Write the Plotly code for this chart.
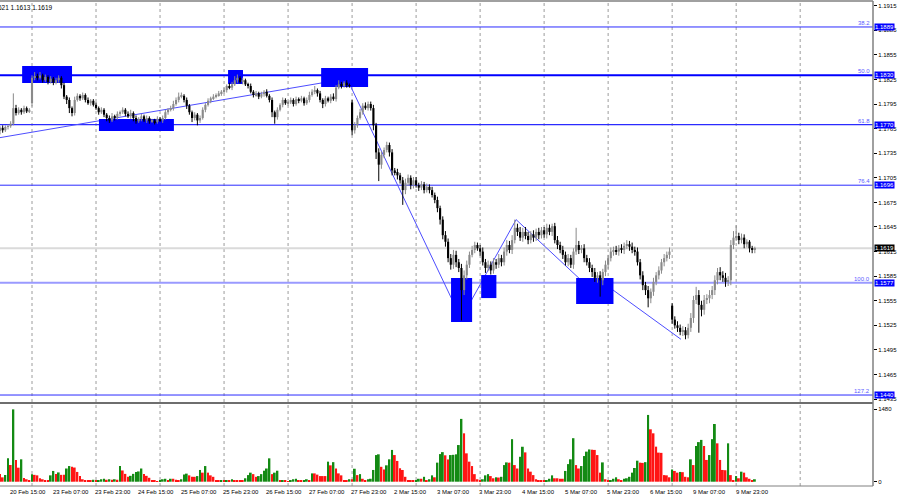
import plotly.graph_objects as go

# ---- hourly EURUSD bars, closes per trading day (broker time) ----
day_names = ["20 Feb", "23 Feb", "24 Feb", "25 Feb", "26 Feb", "27 Feb",
             "2 Mar", "3 Mar", "4 Mar", "5 Mar", "6 Mar", "9 Mar", "10 Mar"]
first_hour = 12
first_open = 1.1762

c_fri_20 = [1.1766, 1.1763, 1.1767, 1.1768, 1.1771, 1.1790, 1.1784, 1.1788, 1.1785, 1.1790, 1.1786, 1.1788]
c_mon_23 = [1.1827, 1.1829, 1.1827, 1.1830, 1.1824, 1.1828, 1.1822, 1.1826, 1.1821, 1.1824, 1.1827, 1.1818,
            1.1804, 1.1800, 1.1790, 1.1784, 1.1800, 1.1805, 1.1802, 1.1806, 1.1800, 1.1796, 1.1799, 1.1794]
c_tue_24 = [1.1790, 1.1785, 1.1788, 1.1782, 1.1778, 1.1775, 1.1780, 1.1778, 1.1783, 1.1785, 1.1788, 1.1783,
            1.1780, 1.1784, 1.1778, 1.1774, 1.1777, 1.1780, 1.1775, 1.1778, 1.1774, 1.1775, 1.1773, 1.1777]
c_wed_25 = [1.1775, 1.1778, 1.1785, 1.1788, 1.1790, 1.1795, 1.1800, 1.1804, 1.1805, 1.1800, 1.1793, 1.1785,
            1.1778, 1.1782, 1.1775, 1.1778, 1.1788, 1.1794, 1.1799, 1.1802, 1.1804, 1.1806, 1.1808, 1.1810]
c_thu_26 = [1.1812, 1.1817, 1.1815, 1.1819, 1.1824, 1.1827, 1.1822, 1.1824, 1.1819, 1.1817, 1.1810, 1.1806,
            1.1808, 1.1804, 1.1807, 1.1810, 1.1805, 1.1800, 1.1785, 1.1779, 1.1788, 1.1794, 1.1800, 1.1796]
c_fri_27 = [1.1797, 1.1800, 1.1795, 1.1801, 1.1799, 1.1802, 1.1796, 1.1800, 1.1806, 1.1810, 1.1812, 1.1808,
            1.1800, 1.1795, 1.1802, 1.1799, 1.1804, 1.1801, 1.1815, 1.1819, 1.1817, 1.1821, 1.1818, 1.1817]
c_mon_2 = [1.1763, 1.1769, 1.1778, 1.1785, 1.1793, 1.1790, 1.1795, 1.1790, 1.1769, 1.1736, 1.1721, 1.1733,
           1.1739, 1.1745, 1.1736, 1.1714, 1.1712, 1.1708, 1.1702, 1.1690, 1.1699, 1.1705, 1.1696, 1.1702]
c_tue_3 = [1.1696, 1.1693, 1.1697, 1.1690, 1.1694, 1.1690, 1.1684, 1.1678, 1.1668, 1.1654, 1.1635, 1.1627,
           1.1607, 1.1599, 1.1611, 1.1602, 1.1595, 1.1568, 1.1586, 1.1599, 1.1611, 1.1617, 1.1623, 1.1619]
c_wed_4 = [1.1615, 1.1602, 1.1595, 1.1599, 1.1592, 1.1602, 1.1599, 1.1607, 1.1602, 1.1615, 1.1623, 1.1617,
           1.1629, 1.1644, 1.1639, 1.1632, 1.1639, 1.1634, 1.1629, 1.1636, 1.1632, 1.1639, 1.1635, 1.1641]
c_thu_5 = [1.1636, 1.1644, 1.1639, 1.1646, 1.1629, 1.1623, 1.1617, 1.1611, 1.1602, 1.1607, 1.1599, 1.1615,
           1.1623, 1.1617, 1.1619, 1.1607, 1.1602, 1.1595, 1.1590, 1.1583, 1.1586, 1.1580, 1.1590, 1.1599]
c_fri_6 = [1.1607, 1.1615, 1.1617, 1.1615, 1.1619, 1.1617, 1.1622, 1.1624, 1.1621, 1.1617, 1.1615, 1.1602,
           1.1586, 1.1574, 1.1568, 1.1558, 1.1566, 1.1578, 1.1586, 1.1592, 1.1602, 1.1607, 1.1611, 1.1615]
c_mon_9 = [1.1532, 1.1525, 1.1522, 1.1517, 1.1519, 1.1513, 1.1522, 1.1534, 1.1556, 1.1562, 1.1550, 1.1544,
           1.1556, 1.1558, 1.1562, 1.1568, 1.1580, 1.1590, 1.1586, 1.1583, 1.1578, 1.1580, 1.1623, 1.1632]
c_tue_10 = [1.1634, 1.1629, 1.1632, 1.1624, 1.1627, 1.1619, 1.1617, 1.1619]

# weekend gaps: Monday opens
gap_opens = {"23 Feb 00:00": 1.1796, "2 Mar 00:00": 1.1797, "9 Mar 00:00": 1.1549}

# wicks in pips above / below the body
hi_days = [
    [2, 3, 2, 2, 3, 18, 4, 3, 2, 3, 2, 2],
    [3, 5, 3, 4, 2, 3, 2, 3, 2, 3, 3, 2, 3, 2, 3, 2, 4, 3, 2, 3, 2, 3, 2, 2],
    [3, 2, 3, 2, 2, 3, 4, 2, 3, 2, 3, 2, 3, 4, 2, 3, 2, 3, 2, 3, 2, 2, 2, 3],
    [2, 3, 3, 2, 3, 4, 3, 5, 4, 2, 3, 2, 2, 3, 2, 3, 3, 2, 3, 2, 3, 2, 3, 2],
    [3, 2, 4, 3, 5, 4, 2, 3, 2, 2, 3, 2, 3, 2, 3, 2, 3, 2, 3, 2, 3, 2, 3, 2],
    [2, 3, 2, 3, 2, 3, 2, 3, 4, 3, 5, 2, 3, 2, 3, 2, 3, 4, 3, 5, 3, 2, 3, 2],
    [3, 4, 3, 4, 3, 4, 3, 3, 4, 3, 5, 4, 3, 4, 3, 4, 3, 4, 3, 4, 5, 4, 3, 4],
    [4, 3, 4, 3, 4, 3, 4, 3, 4, 3, 4, 5, 4, 5, 6, 5, 4, 5, 6, 5, 4, 5, 4, 3],
    [4, 5, 4, 5, 4, 5, 4, 5, 4, 5, 6, 5, 6, 10, 5, 6, 5, 6, 5, 4, 5, 4, 5, 4],
    [4, 5, 4, 3, 4, 5, 4, 5, 4, 5, 4, 4, 21, 5, 4, 5, 4, 5, 4, 5, 4, 5, 4, 5],
    [4, 5, 4, 5, 4, 5, 4, 5, 4, 5, 4, 5, 4, 5, 4, 5, 4, 5, 4, 5, 4, 5, 4, 5],
    [3, 4, 5, 4, 5, 4, 5, 6, 5, 10, 6, 5, 6, 5, 6, 5, 6, 5, 6, 5, 6, 5, 6, 8],
    [13, 4, 5, 4, 3, 2, 3, 2],
]
lo_days = [
    [4, 3, 2, 3, 2, 2, 3, 2, 3, 2, 2, 2],
    [4, 3, 3, 2, 3, 2, 3, 2, 3, 2, 3, 4, 3, 5, 6, 4, 3, 2, 3, 2, 3, 2, 3, 2],
    [2, 3, 2, 3, 4, 3, 2, 3, 2, 3, 2, 3, 2, 3, 4, 3, 2, 3, 2, 3, 3, 2, 3, 2],
    [2, 3, 2, 3, 2, 3, 2, 3, 2, 3, 4, 3, 5, 3, 6, 3, 2, 3, 2, 3, 2, 2, 2, 3],
    [2, 3, 2, 3, 2, 3, 2, 3, 2, 3, 2, 3, 2, 3, 2, 3, 2, 3, 6, 8, 3, 2, 3, 2],
    [3, 2, 3, 2, 3, 2, 3, 2, 3, 2, 3, 4, 3, 5, 3, 2, 3, 2, 3, 2, 3, 2, 3, 2],
    [6, 4, 3, 2, 3, 2, 3, 3, 6, 8, 20, 5, 4, 3, 5, 6, 4, 5, 4, 18, 5, 4, 5, 4],
    [3, 4, 3, 4, 3, 4, 3, 4, 5, 6, 5, 6, 5, 6, 5, 6, 5, 37, 6, 5, 4, 3, 4, 3],
    [5, 4, 6, 4, 5, 4, 5, 4, 5, 4, 5, 4, 5, 4, 5, 4, 5, 4, 5, 4, 5, 4, 5, 4],
    [4, 5, 4, 5, 4, 5, 4, 5, 4, 5, 4, 5, 4, 5, 4, 5, 4, 5, 6, 5, 6, 20, 6, 5],
    [5, 4, 5, 4, 5, 4, 5, 4, 5, 4, 5, 4, 5, 6, 6, 11, 6, 5, 4, 5, 4, 5, 4, 5],
    [5, 4, 5, 4, 5, 5, 4, 5, 6, 5, 34, 8, 6, 5, 6, 5, 6, 5, 6, 5, 6, 5, 6, 5],
    [4, 5, 4, 5, 4, 5, 4, 4],
]

# tick volumes per day
vol_days = [
    [157, 89, 137, 478, 342, 1480, 444, 287, 458, 75, 50, 30],
    [150, 140, 130, 70, 50, 30, 30, 130, 220, 160, 190, 140, 140, 270, 320, 305, 290, 200, 115, 50, 30, 30, 20, 40],
    [15, 30, 50, 60, 40, 50, 40, 50, 40, 320, 230, 160, 100, 120, 160, 200, 210, 270, 160, 120, 80, 30, 30, 10],
    [15, 50, 60, 35, 60, 60, 40, 30, 50, 145, 165, 130, 100, 100, 115, 240, 185, 320, 185, 130, 100, 30, 25, 30],
    [15, 35, 35, 50, 35, 35, 35, 35, 70, 135, 185, 155, 100, 115, 155, 225, 270, 478, 155, 185, 225, 20, 35, 20],
    [5, 35, 50, 60, 20, 20, 35, 50, 35, 170, 170, 145, 115, 115, 115, 410, 335, 400, 270, 170, 130, 35, 35, 50],
    [50, 265, 135, 155, 60, 35, 50, 60, 240, 545, 560, 305, 250, 335, 458, 650, 545, 425, 275, 240, 100, 35, 27, 15],
    [35, 60, 60, 100, 35, 50, 130, 90, 390, 565, 605, 540, 455, 545, 550, 560, 750, 1285, 990, 580, 410, 320, 155, 50],
    [20, 50, 130, 155, 115, 70, 90, 85, 100, 340, 395, 390, 870, 340, 270, 510, 715, 600, 270, 205, 135, 50, 35, 35],
    [15, 35, 60, 130, 70, 70, 60, 60, 220, 360, 458, 890, 340, 270, 320, 525, 615, 660, 655, 650, 545, 185, 395, 50],
    [15, 35, 60, 90, 50, 35, 60, 70, 100, 185, 280, 430, 390, 385, 400, 1366, 1072, 990, 717, 595, 590, 135, 130, 90],
    [250, 220, 185, 200, 195, 100, 90, 458, 340, 730, 810, 855, 730, 445, 545, 870, 1180, 785, 445, 240, 235, 785, 135, 35],
    [115, 70, 205, 185, 90, 60, 35, 50],
]

close_days = [c_fri_20, c_mon_23, c_tue_24, c_wed_25, c_thu_26, c_fri_27,
              c_mon_2, c_tue_3, c_wed_4, c_thu_5, c_fri_6, c_mon_9, c_tue_10]

# time-scale labels
label_times = ["20 Feb 15:00", "23 Feb 07:00", "23 Feb 23:00", "24 Feb 15:00", "25 Feb 07:00",
               "25 Feb 23:00", "26 Feb 15:00", "27 Feb 07:00", "27 Feb 23:00", "2 Mar 15:00",
               "3 Mar 07:00", "3 Mar 23:00", "4 Mar 15:00", "5 Mar 07:00", "5 Mar 23:00",
               "6 Mar 15:00", "9 Mar 07:00", "9 Mar 23:00"]
cut_label = "19 Feb 23:00"

price_ticks = [1.1435, 1.1465, 1.1495, 1.1525, 1.1555, 1.1585, 1.1615, 1.1645, 1.1675,
               1.1705, 1.1735, 1.1765, 1.1795, 1.1825, 1.1855, 1.1885, 1.1915]
vol_ticks = [0, 1480]

# fibonacci grid
fib_pct = ["38.2", "50.0", "61.8", "76.4", "100.0", "127.2"]
fib_price = [1.1889, 1.1830, 1.1770, 1.1696, 1.1577, 1.1440]
bid = 1.1619
header = "EURUSD,H1  1.1617 1.1621 1.1613 1.1619"

# analyst drawings (bar index, price)
zigzag_bar = [0, 130.1, 172.9, 193.5, 223.5, 226.9, 255.3]
zigzag_price = [1.1754, 1.1826, 1.1533, 1.1654, 1.1563, 1.1575, 1.1508]
boxes = [  # bar0, bar1, price_lo, price_hi
    (8.3, 27.0, 1.18207, 1.18414),
    (37.1, 65.2, 1.17621, 1.17768),
    (85.5, 91.1, 1.18195, 1.18365),
    (120.4, 138.0, 1.18158, 1.18390),
    (169.1, 177.0, 1.15291, 1.15828),
    (180.4, 186.1, 1.15583, 1.15864),
    (216.0, 230.0, 1.15510, 1.15828),
]

# ---- assemble bars ----
times = []
for k, (name, day) in enumerate(zip(day_names, close_days)):
    h0 = first_hour if k == 0 else 0
    times += [f"{name} {h0 + h:02d}:00" for h in range(len(day))]

closes = sum(close_days, [])
wick_hi = sum(hi_days, [])
wick_lo = sum(lo_days, [])
volumes = sum(vol_days, [])
bars = list(range(len(closes)))

opens = [first_open] + closes[:-1]
for t, o in gap_opens.items():
    opens[times.index(t)] = o
highs = [round(max(o, c) + w * 0.0001, 5) for o, c, w in zip(opens, closes, wick_hi)]
lows = [round(min(o, c) - w * 0.0001, 5) for o, c, w in zip(opens, closes, wick_lo)]

UP, DOWN = "#8a8a8a", "#000000"
is_up = [c >= o for o, c in zip(opens, closes)]
body_base = [min(o, c) for o, c in zip(opens, closes)]
body_h = [max(abs(c - o), 0.00003) for o, c in zip(opens, closes)]
body_col = [UP if u else DOWN for u in is_up]


def wick_xy(up):
    xs, ys = [], []
    for b, h, l, u in zip(bars, highs, lows, is_up):
        if u == up:
            xs += [b, b, None]
            ys += [l, h, None]
    return xs, ys


vol_colors = ["#138a13" if i > 0 and volumes[i] > volumes[i - 1] else "#ff1414"
              for i in range(len(volumes))]

label_bars = [times.index(t) for t in label_times]
day_starts = [i for i, t in enumerate(times) if t.endswith(" 00:00")]
day_starts.append(day_starts[-1] + 24)

# ---- axes geometry ----
X_RANGE = [0, 327.3]
P_RANGE = [1.14315, 1.19207]
V_RANGE = [-88, 1590]
MAIN_DOM = [0.1732, 1.0]
VOL_DOM = [0.0, 0.1691]
SEP_Y = 0.1711

fib_style = {
    "38.2": ("#2b2bff", 1), "50.0": ("#0000ff", 2), "61.8": ("#2b2bff", 1.3),
    "76.4": ("#2b2bff", 1), "100.0": ("#9a9aff", 2), "127.2": ("#2b2bff", 1),
}

fig = go.Figure()

# zigzag + boxes on the base layer (under the candles)
fig.add_trace(go.Scatter(
    x=zigzag_bar, y=zigzag_price, mode="lines",
    line=dict(color="#4d4dff", width=1), hoverinfo="skip",
    xaxis="x", yaxis="y"))
for b0, b1, p0, p1 in boxes:
    fig.add_trace(go.Scatter(
        x=[b0, b1, b1, b0, b0], y=[p0, p0, p1, p1, p0],
        mode="lines", fill="toself", fillcolor="#0000ff",
        line=dict(width=0, color="#0000ff"), hoverinfo="skip",
        xaxis="x", yaxis="y"))

# candles on an overlaying axis so they sit above the drawings
fig.add_trace(go.Bar(
    x=bars, y=body_h, base=body_base, width=0.8,
    marker=dict(color=body_col, line=dict(width=0)),
    hoverinfo="skip", xaxis="x", yaxis="y3"))
for up, col in [(True, UP), (False, DOWN)]:
    wx, wy = wick_xy(up)
    fig.add_trace(go.Scatter(
        x=wx, y=wy, mode="lines", line=dict(color=col, width=1),
        hoverinfo="skip", xaxis="x", yaxis="y3"))

fig.add_trace(go.Bar(
    x=bars, y=volumes, marker=dict(color=vol_colors, line=dict(width=0)),
    width=0.72, xaxis="x", yaxis="y2"))

shapes = []
for d in day_starts:
    shapes.append(dict(type="line", xref="x", yref="paper", x0=d, x1=d, y0=0, y1=1,
                       line=dict(color="#9c9c9c", width=1, dash="dot"), layer="below"))
shapes.append(dict(type="line", xref="paper", yref="y", x0=0, x1=1, y0=bid, y1=bid,
                   line=dict(color="#dadada", width=2), layer="below"))
for pct, lvl in zip(fib_pct, fib_price):
    col, w = fib_style[pct]
    shapes.append(dict(type="line", xref="paper", yref="y", x0=0, x1=1, y0=lvl, y1=lvl,
                       line=dict(color=col, width=w), layer="below"))
# panel frames
shapes += [
    dict(type="line", xref="paper", yref="paper", x0=0, x1=1, y0=1, y1=1,
         line=dict(color="#808080", width=1.5)),
    dict(type="line", xref="paper", yref="paper", x0=0, x1=1, y0=SEP_Y, y1=SEP_Y,
         line=dict(color="#6e6e6e", width=2)),
    dict(type="line", xref="paper", yref="paper", x0=0, x1=1, y0=0, y1=0,
         line=dict(color="#808080", width=1)),
    dict(type="line", xref="paper", yref="paper", x0=1, x1=1, y0=0, y1=1,
         line=dict(color="#808080", width=1.5)),
]

FONT = "Liberation Sans, Arial, sans-serif"
small = dict(family=FONT, size=6, color="#000000")
ann = []
for t, b in zip([cut_label] + label_times, [label_bars[0] - 16] + label_bars):
    ann.append(dict(x=b, xref="x", y=0, yref="paper", text=t, showarrow=False,
                    xanchor="left", yanchor="top", yshift=-1, font=small))
for pct, lvl in zip(fib_pct, fib_price):
    ann.append(dict(x=1, xref="paper", y=lvl, yref="y", text=pct, showarrow=False,
                    xanchor="right", yanchor="bottom", xshift=-1, yshift=-1,
                    font=dict(family=FONT, size=6, color="#5a5aff")))
    ann.append(dict(x=1, xref="paper", y=lvl, yref="y", text=f"{lvl:.4f}", showarrow=False,
                    xanchor="left", yanchor="middle", xshift=1, bgcolor="#0000ff",
                    borderpad=0, font=dict(family=FONT, size=6, color="#ffffff")))
ann.append(dict(x=1, xref="paper", y=bid, yref="y", text=f"{bid:.4f}", showarrow=False,
                xanchor="left", yanchor="middle", xshift=1, bgcolor="#000000",
                borderpad=0, font=dict(family=FONT, size=6, color="#ffffff")))
ann.append(dict(x=55 / 873, xref="paper", y=1, yref="paper", text=header, showarrow=False,
                xanchor="right", yanchor="top", yshift=-1,
                font=dict(family=FONT, size=6.5, color="#000000")))

fig.update_layout(
    width=900, height=500,
    margin=dict(l=0, r=27, t=1, b=14),
    paper_bgcolor="#ffffff", plot_bgcolor="#ffffff",
    showlegend=False, font=small, barmode="overlay",
    shapes=shapes, annotations=ann,
    xaxis=dict(range=X_RANGE, anchor="y2", showgrid=False, zeroline=False,
               showticklabels=False, ticks=""),
    yaxis=dict(domain=MAIN_DOM, range=P_RANGE, side="right", anchor="x",
               tickvals=price_ticks, tickformat=".4f", ticks="outside", ticklen=3,
               tickcolor="#000000", showgrid=False, zeroline=False, tickfont=small),
    yaxis3=dict(range=P_RANGE, overlaying="y", side="right", visible=False),
    yaxis2=dict(domain=VOL_DOM, range=V_RANGE, side="right", anchor="x",
                tickvals=vol_ticks, ticks="outside", ticklen=3, tickcolor="#000000",
                showgrid=False, zeroline=False, tickfont=small),
)

# the page body has a default 8px margin; drop it so the figure sits at 0,0
fig.write_html("out.html", config={"displayModeBar": False},
               post_script="document.body.style.margin='0px';")
